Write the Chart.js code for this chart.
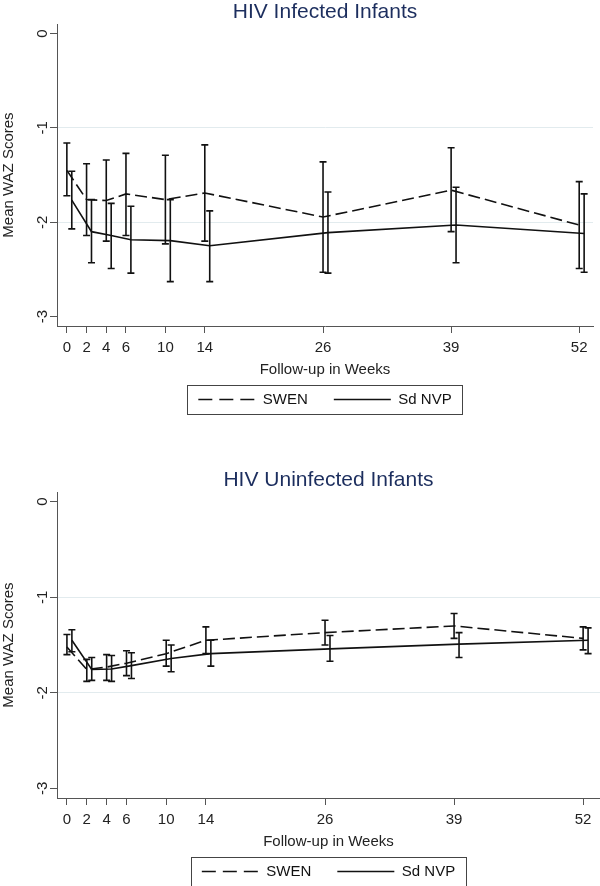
<!DOCTYPE html>
<html>
<head>
<meta charset="utf-8">
<script src="https://cdn.jsdelivr.net/npm/chart.js@4"></script>
<style>
  html, body { margin: 0; background: #fff; overflow: hidden; }
  .box { width: 600px; position: relative; }
  canvas { display: block; }
</style>
</head>
<body>
<div class="box"><canvas id="infChart" width="600" height="430"></canvas></div>
<div class="box"><canvas id="uninfChart" width="600" height="470"></canvas></div>
<script>
const FONT = '"Liberation Sans", Arial, sans-serif';

// follow-up weeks (SWEN plotted at the week, Sd NVP shifted half a week)
const weekTicks = [0, 2, 4, 6, 10, 14, 26, 39, 52];
const swenWeeks = [0, 2, 4, 6, 10, 14, 26, 39, 52];
const nvpWeeks = [0.5, 2.5, 4.5, 6.5, 10.5, 14.5, 26.5, 39.5, 52.5];
const yTicks = [-3, -2, -1, 0];

// HIV infected infants
const swenInfMean = [-1.45, -1.76, -1.77, -1.70, -1.76, -1.69, -1.945, -1.66, -2.03];
const swenInfLo   = [-1.72, -2.14, -2.20, -2.14, -2.23, -2.20, -2.53, -2.10, -2.49];
const swenInfHi   = [-1.16, -1.38, -1.34, -1.27, -1.29, -1.18, -1.36, -1.21, -1.57];
const nvpInfMean  = [-1.765, -2.10, -2.14, -2.185, -2.195, -2.25, -2.11, -2.03, -2.12];
const nvpInfLo    = [-2.07, -2.43, -2.49, -2.54, -2.63, -2.63, -2.54, -2.43, -2.53];
const nvpInfHi    = [-1.46, -1.76, -1.80, -1.83, -1.76, -1.88, -1.68, -1.63, -1.70];

// HIV uninfected infants
const swenUnMean = [-1.52, -1.755, -1.73, -1.69, -1.59, -1.45, -1.37, -1.30, -1.43];
const swenUnLo   = [-1.60, -1.88, -1.87, -1.82, -1.72, -1.59, -1.50, -1.43, -1.55];
const swenUnHi   = [-1.39, -1.65, -1.60, -1.56, -1.45, -1.31, -1.24, -1.17, -1.31];
const nvpUnMean  = [-1.45, -1.755, -1.75, -1.715, -1.64, -1.59, -1.54, -1.49, -1.45];
const nvpUnLo    = [-1.57, -1.87, -1.88, -1.85, -1.78, -1.72, -1.67, -1.63, -1.59];
const nvpUnHi    = [-1.34, -1.63, -1.61, -1.58, -1.50, -1.45, -1.40, -1.37, -1.32];

const seriesNames = ['SWEN', 'Sd NVP'];

function pts(xs, ys) {
    return xs.map((x, i) => ({ x: x, y: ys[i] }));
}

// error bars, rotated y tick labels and legend frame
const extrasPlugin = {
    id: 'extras',
    afterDatasetsDraw(chart) {
        const ctx = chart.ctx;
        const xs = chart.scales.x, ys = chart.scales.y;
        ctx.save();
        ctx.strokeStyle = '#111';
        ctx.lineWidth = 1.6;
        chart.data.datasets.forEach(ds => {
            ds.data.forEach((p, i) => {
                const px = xs.getPixelForValue(p.x);
                const top = ys.getPixelForValue(ds.errHi[i]);
                const bot = ys.getPixelForValue(ds.errLo[i]);
                ctx.beginPath();
                ctx.moveTo(px, top); ctx.lineTo(px, bot);
                ctx.moveTo(px - 3.5, top); ctx.lineTo(px + 3.5, top);
                ctx.moveTo(px - 3.5, bot); ctx.lineTo(px + 3.5, bot);
                ctx.stroke();
            });
        });
        ctx.restore();
    },
    afterDraw(chart) {
        const ctx = chart.ctx;
        const ys = chart.scales.y;
        ctx.save();
        ctx.font = '15px ' + FONT;
        ctx.fillStyle = '#222';
        ctx.textAlign = 'center';
        ctx.textBaseline = 'middle';
        ys.ticks.forEach(t => {
            ctx.save();
            ctx.translate(chart.chartArea.left - 14, ys.getPixelForValue(t.value));
            ctx.rotate(-Math.PI / 2);
            ctx.fillText(String(t.value), 0, 0);
            ctx.restore();
        });
        const hb = chart.legend.legendHitBoxes;
        if (hb && hb.length) {
            const l = Math.min(...hb.map(b => b.left)) - 11;
            const r = Math.max(...hb.map(b => b.left + b.width)) + 11;
            const t = Math.min(...hb.map(b => b.top)) - 7;
            const b = Math.max(...hb.map(b => b.top + b.height)) + 7;
            ctx.strokeStyle = '#444';
            ctx.lineWidth = 1;
            ctx.strokeRect(Math.round(l) + 0.5, Math.round(t) + 0.5, Math.round(r - l), Math.round(b - t));
        }
        ctx.restore();
    }
};

function makeChart(id, title, swen, nvp, xMax, pad) {
    const ctx = document.getElementById(id).getContext('2d');
    return new Chart(ctx, {
        type: 'line',
        data: {
            datasets: [{
                label: seriesNames[0],
                data: pts(swenWeeks, swen[0]),
                errLo: swen[1],
                errHi: swen[2],
                borderColor: '#111',
                borderWidth: 1.6,
                borderDash: [12, 5],
                pointRadius: 0,
                tension: 0,
                fill: false
            }, {
                label: seriesNames[1],
                data: pts(nvpWeeks, nvp[0]),
                errLo: nvp[1],
                errHi: nvp[2],
                borderColor: '#111',
                borderWidth: 1.6,
                pointRadius: 0,
                tension: 0,
                fill: false
            }]
        },
        options: {
            responsive: false,
            animation: false,
            layout: { padding: pad },
            plugins: {
                title: {
                    display: true,
                    text: title,
                    fullSize: false,
                    color: '#1c2e5e',
                    font: { family: FONT, size: 21, weight: 'normal', lineHeight: 1.1 },
                    padding: { top: 1, bottom: 0 }
                },
                legend: {
                    position: 'bottom',
                    fullSize: false,
                    labels: {
                        usePointStyle: true,
                        pointStyle: 'line',
                        pointStyleWidth: 57,
                        color: '#111',
                        padding: 26,
                        font: { family: FONT, size: 15 },
                        generateLabels(chart) {
                            const items = Chart.defaults.plugins.legend.labels.generateLabels(chart);
                            items.forEach(it => {
                                const ds = chart.data.datasets[it.datasetIndex];
                                it.lineDash = ds.borderDash ? [14, 7] : [];
                                it.lineWidth = 1.5;
                                it.strokeStyle = '#111';
                            });
                            return items;
                        }
                    }
                },
                tooltip: { enabled: false }
            },
            scales: {
                x: {
                    type: 'linear',
                    min: -1,
                    max: xMax,
                    afterBuildTicks: s => { s.ticks = weekTicks.map(v => ({ value: v })); },
                    ticks: {
                        autoSkip: false,
                        maxRotation: 0,
                        padding: 6,
                        color: '#222',
                        font: { family: FONT, size: 15 }
                    },
                    grid: { drawOnChartArea: false, tickLength: 7, tickColor: '#555' },
                    border: { color: '#555', width: 1 },
                    title: {
                        display: true,
                        text: 'Follow-up in Weeks',
                        color: '#222',
                        font: { family: FONT, size: 15 },
                        padding: { top: -2.5, bottom: -12.5 }
                    }
                },
                y: {
                    min: -3.1,
                    max: 0.1,
                    afterBuildTicks: s => { s.ticks = yTicks.map(v => ({ value: v })); },
                    ticks: { display: false },
                    grid: {
                        color: c => (c.tick && (c.tick.value === -1 || c.tick.value === -2)) ? '#e2ebee' : 'rgba(0,0,0,0)',
                        tickLength: 7,
                        tickColor: '#555'
                    },
                    border: { color: '#555', width: 1 },
                    title: {
                        display: true,
                        text: 'Mean WAZ Scores',
                        color: '#222',
                        font: { family: FONT, size: 15 },
                        padding: { top: 0, bottom: 32 }
                    }
                }
            }
        },
        plugins: [extrasPlugin]
    });
}

makeChart('infChart', 'HIV Infected Infants',
    [swenInfMean, swenInfLo, swenInfHi], [nvpInfMean, nvpInfLo, nvpInfHi],
    53.4, { top: 0, right: 7, bottom: 13, left: 0 });

makeChart('uninfChart', 'HIV Uninfected Infants',
    [swenUnMean, swenUnLo, swenUnHi], [nvpUnMean, nvpUnLo, nvpUnHi],
    53.7, { top: 38, right: 0, bottom: 11, left: 0 });
</script>
</body>
</html>
